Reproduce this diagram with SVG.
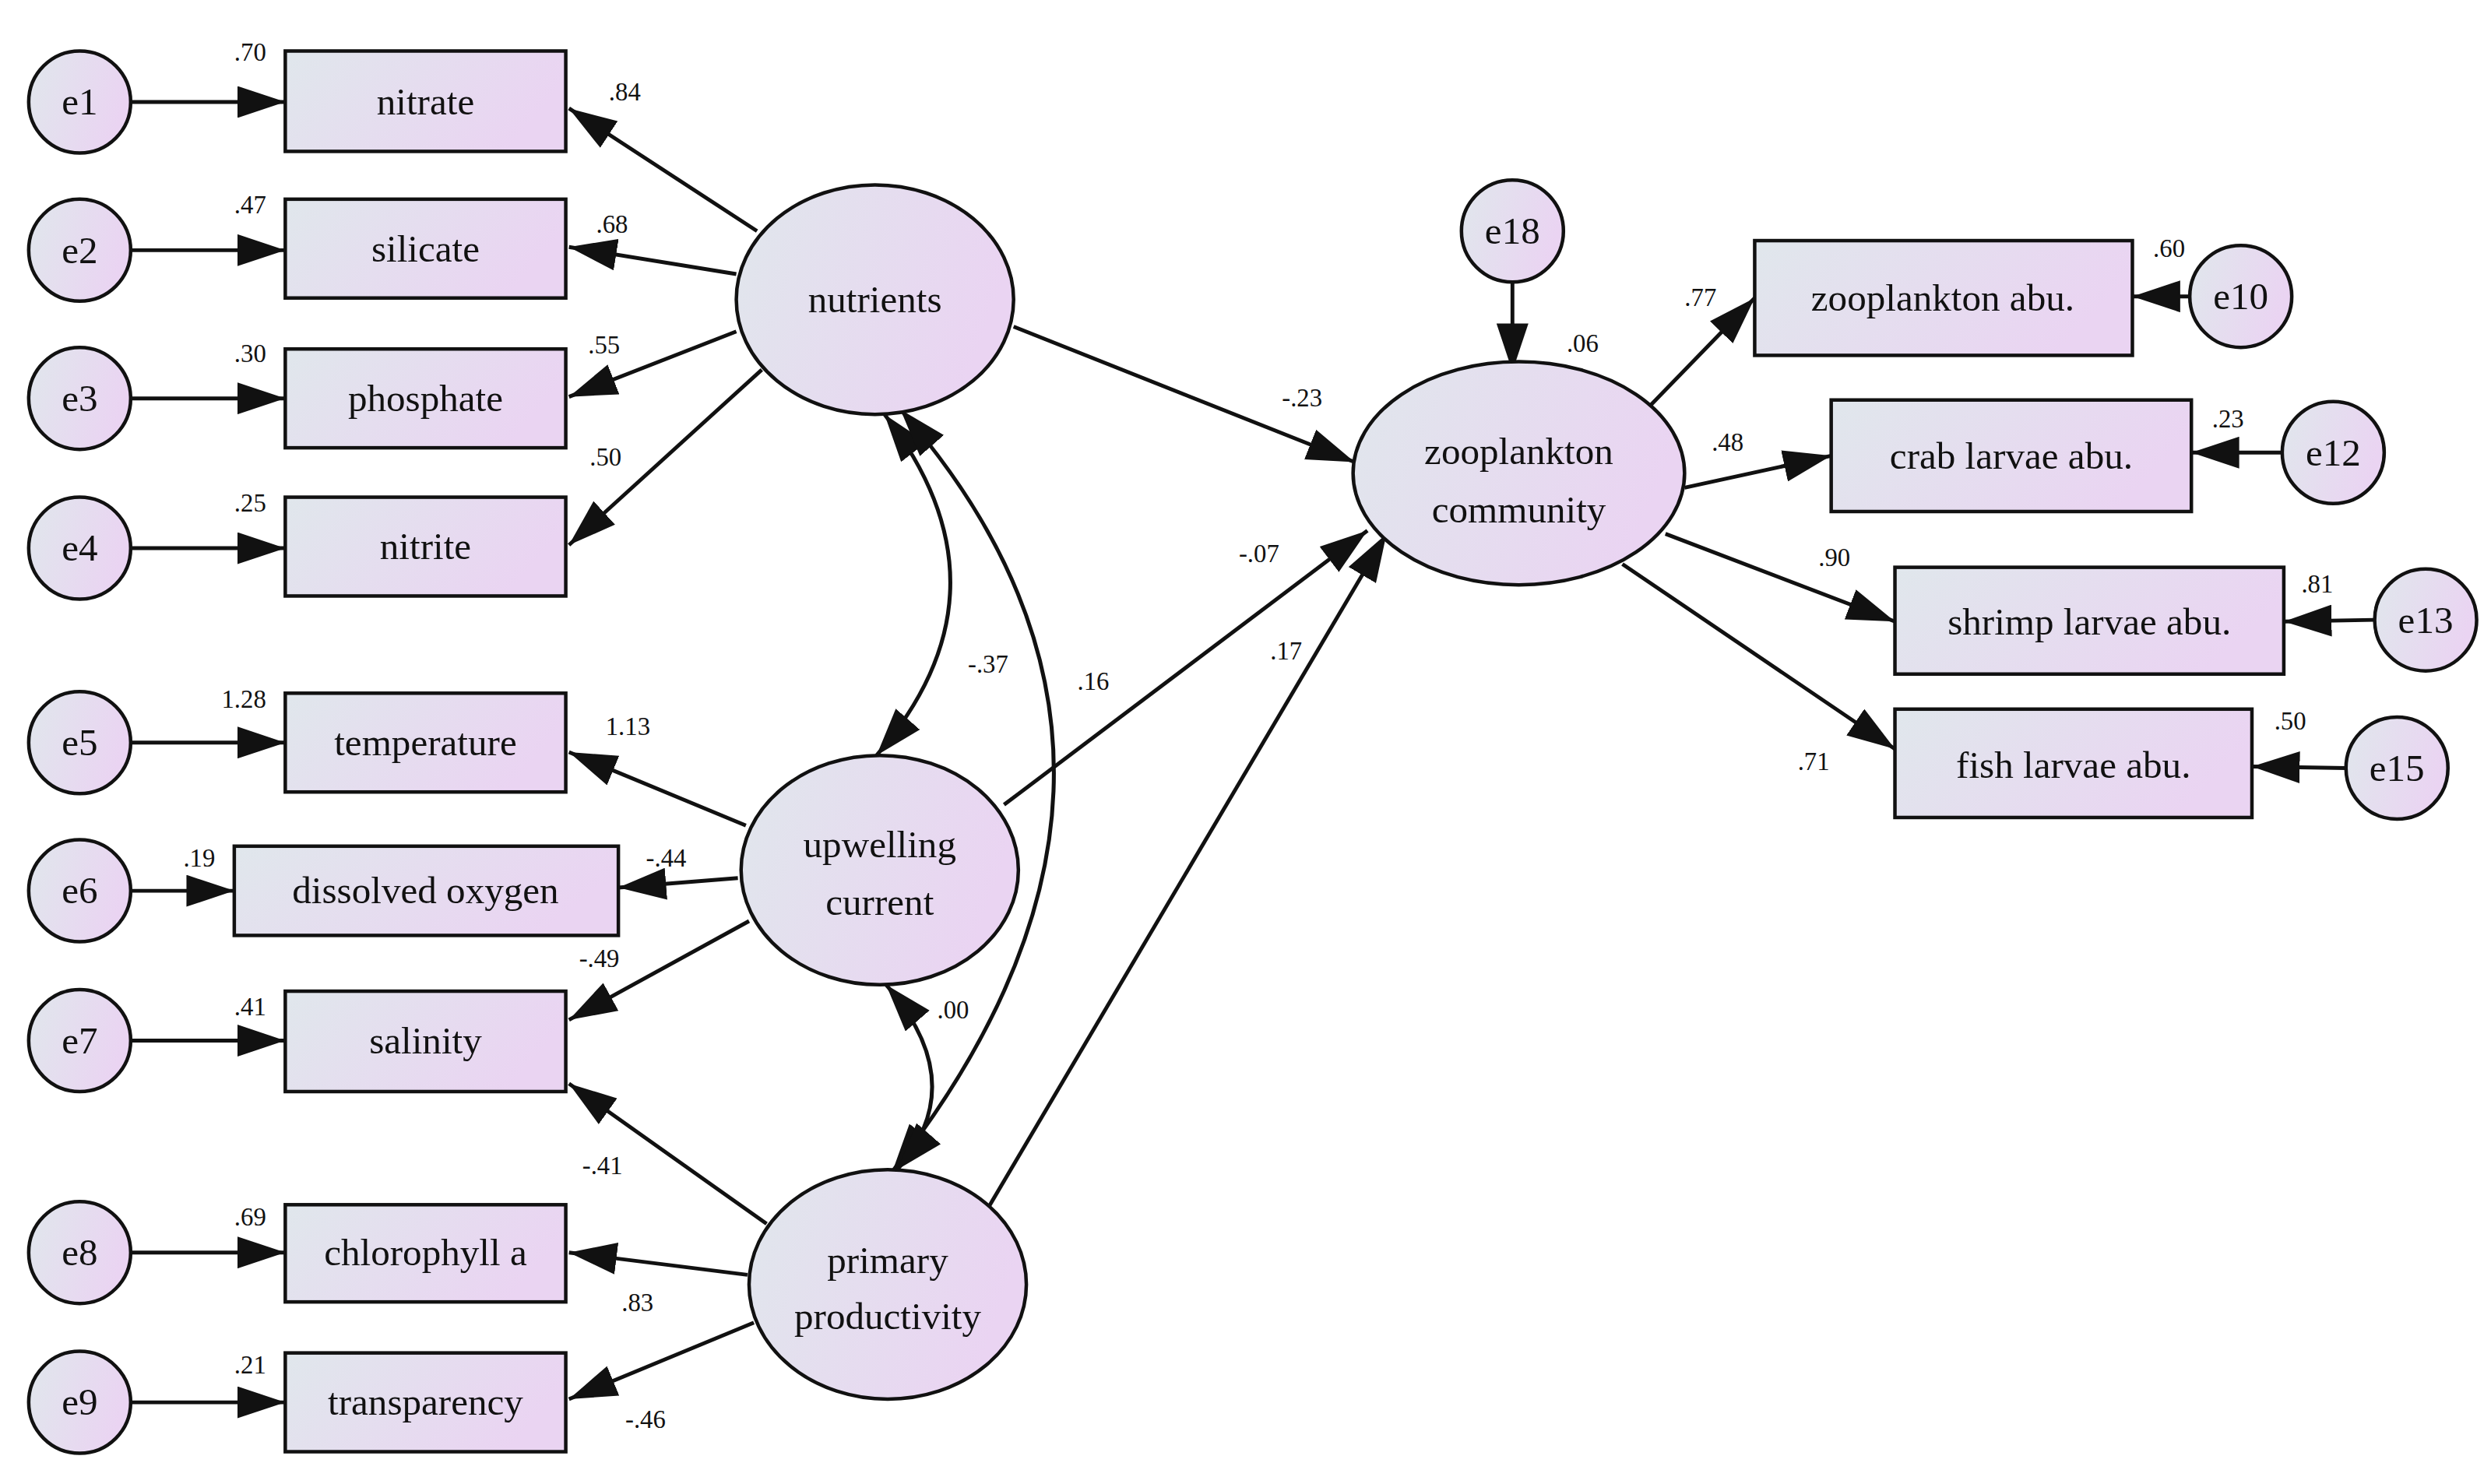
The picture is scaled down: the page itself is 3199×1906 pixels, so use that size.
<svg xmlns="http://www.w3.org/2000/svg" width="3199" height="1906" viewBox="0 0 3199 1906">
<style>
.n{stroke:#111;stroke-width:2.2;fill:url(#g)}
.t{font-family:"Liberation Serif",serif;font-size:24px;fill:#111;text-anchor:middle}
.s{font-family:"Liberation Serif",serif;font-size:16px;fill:#111;text-anchor:middle}
.c line,.c path{stroke:#111;stroke-width:2.4;fill:none}
</style>
<defs>
<linearGradient id="g" x1="0" y1="0" x2="1" y2="0.3"><stop offset="0" stop-color="#e0e7ec"/><stop offset="1" stop-color="#ead4f2"/></linearGradient>
<marker id="a" viewBox="0 0 30 20" refX="30" refY="10" markerWidth="30" markerHeight="20" markerUnits="userSpaceOnUse" orient="auto"><path d="M0,0L30,10L0,20z" fill="#111"/></marker>
<marker id="b" viewBox="0 0 30 20" refX="0" refY="10" markerWidth="30" markerHeight="20" markerUnits="userSpaceOnUse" orient="auto"><path d="M30,0L0,10L30,20z" fill="#111"/></marker>
</defs>
<rect width="3199" height="1906" fill="#fff"/>
<g transform="scale(2.0467)">
<g class="c" id="connectors">
<line x1="83" y1="64" x2="179" y2="64" marker-end="url(#a)"/>
<line x1="83" y1="157" x2="179" y2="157" marker-end="url(#a)"/>
<line x1="83" y1="250" x2="179" y2="250" marker-end="url(#a)"/>
<line x1="83" y1="344" x2="179" y2="344" marker-end="url(#a)"/>
<line x1="83" y1="466" x2="179" y2="466" marker-end="url(#a)"/>
<line x1="83" y1="559" x2="147" y2="559" marker-end="url(#a)"/>
<line x1="83" y1="653" x2="179" y2="653" marker-end="url(#a)"/>
<line x1="83" y1="786" x2="179" y2="786" marker-end="url(#a)"/>
<line x1="83" y1="880" x2="179" y2="880" marker-end="url(#a)"/>
<line x1="475" y1="145" x2="357" y2="68" marker-end="url(#a)"/>
<line x1="462" y1="172" x2="357" y2="155" marker-end="url(#a)"/>
<line x1="462" y1="208" x2="357" y2="249" marker-end="url(#a)"/>
<line x1="478" y1="232" x2="357" y2="342" marker-end="url(#a)"/>
<line x1="468" y1="518" x2="357" y2="472" marker-end="url(#a)"/>
<line x1="463" y1="551" x2="388" y2="557" marker-end="url(#a)"/>
<line x1="470" y1="578" x2="357" y2="640" marker-end="url(#a)"/>
<line x1="481" y1="768" x2="357" y2="680" marker-end="url(#a)"/>
<line x1="469" y1="800" x2="357" y2="786" marker-end="url(#a)"/>
<line x1="473" y1="830" x2="357" y2="878" marker-end="url(#a)"/>
<line x1="636" y1="205" x2="850" y2="290" marker-end="url(#a)"/>
<line x1="630" y1="505" x2="858" y2="333" marker-end="url(#a)"/>
<line x1="620" y1="758" x2="870" y2="335" marker-end="url(#a)"/>
<line x1="949" y1="177" x2="949" y2="233" marker-end="url(#a)"/>
<line x1="1034" y1="256" x2="1101" y2="187" marker-end="url(#a)"/>
<line x1="1057" y1="306" x2="1149" y2="286" marker-end="url(#a)"/>
<line x1="1045" y1="335" x2="1189" y2="390" marker-end="url(#a)"/>
<line x1="1018" y1="354" x2="1189" y2="470" marker-end="url(#a)"/>
<line x1="1374" y1="186" x2="1338" y2="186" marker-end="url(#a)"/>
<line x1="1432" y1="284" x2="1375" y2="284" marker-end="url(#a)"/>
<line x1="1490" y1="389" x2="1433" y2="390" marker-end="url(#a)"/>
<line x1="1472" y1="482" x2="1413" y2="481" marker-end="url(#a)"/>
<path d="M555,260 Q640,370 550,474" marker-start="url(#b)" marker-end="url(#a)"/>
<path d="M565,257 Q760,480 560,735" marker-start="url(#b)" marker-end="url(#a)"/>
<path d="M556,618 Q610,680 563,734" marker-start="url(#b)" marker-end="url(#a)"/>
</g>
<g id="e1"><ellipse class="n" cx="50" cy="64" rx="32" ry="32"/><text class="t" x="50" y="72">e1</text></g>
<g id="e2"><ellipse class="n" cx="50" cy="157" rx="32" ry="32"/><text class="t" x="50" y="165">e2</text></g>
<g id="e3"><ellipse class="n" cx="50" cy="250" rx="32" ry="32"/><text class="t" x="50" y="258">e3</text></g>
<g id="e4"><ellipse class="n" cx="50" cy="344" rx="32" ry="32"/><text class="t" x="50" y="352">e4</text></g>
<g id="e5"><ellipse class="n" cx="50" cy="466" rx="32" ry="32"/><text class="t" x="50" y="474">e5</text></g>
<g id="e6"><ellipse class="n" cx="50" cy="559" rx="32" ry="32"/><text class="t" x="50" y="567">e6</text></g>
<g id="e7"><ellipse class="n" cx="50" cy="653" rx="32" ry="32"/><text class="t" x="50" y="661">e7</text></g>
<g id="e8"><ellipse class="n" cx="50" cy="786" rx="32" ry="32"/><text class="t" x="50" y="794">e8</text></g>
<g id="e9"><ellipse class="n" cx="50" cy="880" rx="32" ry="32"/><text class="t" x="50" y="888">e9</text></g>
<g id="nitrate"><rect class="n" x="179" y="32" width="176" height="63"/><text class="t" x="267" y="72">nitrate</text></g>
<g id="silicate"><rect class="n" x="179" y="125" width="176" height="62"/><text class="t" x="267" y="164">silicate</text></g>
<g id="phosphate"><rect class="n" x="179" y="219" width="176" height="62"/><text class="t" x="267" y="258">phosphate</text></g>
<g id="nitrite"><rect class="n" x="179" y="312" width="176" height="62"/><text class="t" x="267" y="351">nitrite</text></g>
<g id="temperature"><rect class="n" x="179" y="435" width="176" height="62"/><text class="t" x="267" y="474">temperature</text></g>
<g id="do"><rect class="n" x="147" y="531" width="241" height="56"/><text class="t" x="267" y="567">dissolved oxygen</text></g>
<g id="salinity"><rect class="n" x="179" y="622" width="176" height="63"/><text class="t" x="267" y="661">salinity</text></g>
<g id="chl"><rect class="n" x="179" y="756" width="176" height="61"/><text class="t" x="267" y="794">chlorophyll a</text></g>
<g id="transparency"><rect class="n" x="179" y="849" width="176" height="62"/><text class="t" x="267" y="888">transparency</text></g>
<g id="nutrients"><ellipse class="n" cx="549" cy="188" rx="87" ry="72"/><text class="t" x="549" y="196">nutrients</text></g>
<g id="upwelling"><ellipse class="n" cx="552" cy="546" rx="87" ry="72"/><text class="t" x="552" y="538">upwelling</text><text class="t" x="552" y="574">current</text></g>
<g id="primary"><ellipse class="n" cx="557" cy="806" rx="87" ry="72"/><text class="t" x="557" y="799">primary</text><text class="t" x="557" y="834">productivity</text></g>
<g id="zoo"><ellipse class="n" cx="953" cy="297" rx="104" ry="70"/><text class="t" x="953" y="291">zooplankton</text><text class="t" x="953" y="328">community</text></g>
<g id="e18"><ellipse class="n" cx="949" cy="145" rx="32" ry="32"/><text class="t" x="949" y="153">e18</text></g>
<g id="zabu"><rect class="n" x="1101" y="151" width="237" height="72"/><text class="t" x="1219" y="195">zooplankton abu.</text></g>
<g id="crab"><rect class="n" x="1149" y="251" width="226" height="70"/><text class="t" x="1262" y="294">crab larvae abu.</text></g>
<g id="shrimp"><rect class="n" x="1189" y="356" width="244" height="67"/><text class="t" x="1311" y="398">shrimp larvae abu.</text></g>
<g id="fish"><rect class="n" x="1189" y="445" width="224" height="68"/><text class="t" x="1301" y="488">fish larvae abu.</text></g>
<g id="e10"><ellipse class="n" cx="1406" cy="186" rx="32" ry="32"/><text class="t" x="1406" y="194">e10</text></g>
<g id="e12"><ellipse class="n" cx="1464" cy="284" rx="32" ry="32"/><text class="t" x="1464" y="292">e12</text></g>
<g id="e13"><ellipse class="n" cx="1522" cy="389" rx="32" ry="32"/><text class="t" x="1522" y="397">e13</text></g>
<g id="e15"><ellipse class="n" cx="1504" cy="482" rx="32" ry="32"/><text class="t" x="1504" y="490">e15</text></g>
<g id="labels">
<text class="s" x="157" y="38">.70</text><text class="s" x="157" y="134">.47</text><text class="s" x="157" y="227">.30</text><text class="s" x="157" y="321">.25</text>
<text class="s" x="153" y="444">1.28</text><text class="s" x="125" y="544">.19</text><text class="s" x="157" y="637">.41</text><text class="s" x="157" y="769">.69</text><text class="s" x="157" y="862">.21</text>
<text class="s" x="392" y="63">.84</text><text class="s" x="384" y="146">.68</text><text class="s" x="379" y="222">.55</text><text class="s" x="380" y="292">.50</text>
<text class="s" x="394" y="461">1.13</text><text class="s" x="418" y="544">-.44</text><text class="s" x="376" y="607">-.49</text>
<text class="s" x="378" y="737">-.41</text><text class="s" x="400" y="823">.83</text><text class="s" x="405" y="896">-.46</text>
<text class="s" x="620" y="422">-.37</text><text class="s" x="686" y="433">.16</text><text class="s" x="598" y="639">.00</text>
<text class="s" x="817" y="255">-.23</text><text class="s" x="790" y="353">-.07</text><text class="s" x="807" y="414">.17</text>
<text class="s" x="993" y="221">.06</text><text class="s" x="1067" y="192">.77</text><text class="s" x="1084" y="283">.48</text><text class="s" x="1151" y="355">.90</text><text class="s" x="1138" y="483">.71</text>
<text class="s" x="1361" y="161">.60</text><text class="s" x="1398" y="268">.23</text><text class="s" x="1454" y="372">.81</text><text class="s" x="1437" y="458">.50</text>
</g>
</g>
</svg>
